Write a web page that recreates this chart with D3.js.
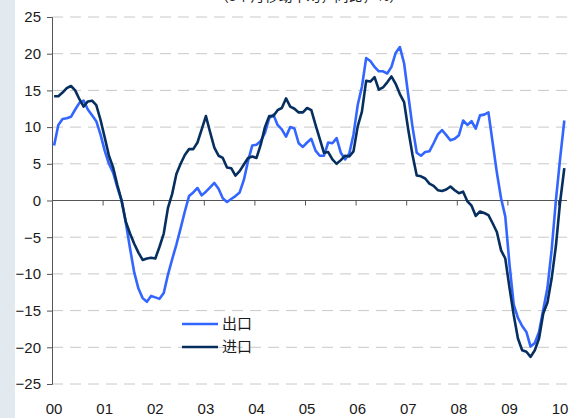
<!DOCTYPE html>
<html lang="zh">
<head>
<meta charset="UTF-8">
<title>出口与进口</title>
<script src="https://d3js.org/d3.v7.min.js"></script>
<style>
  body { margin: 0; padding: 0; background: #fff; }
  svg { display: block; }
  text { font-family: "Liberation Sans", Arial, sans-serif; fill: #1a1a1a; }
  .cjk { font-family: "Noto Sans CJK SC", sans-serif; }
</style>
</head>
<body>
<div id="chart"></div>
<script>
// year labels, one per January (month index 0, 12, 24 ...)
const years = ["00", "01", "02", "03", "04", "05", "06", "07", "08", "09", "10"];
const yTicks = [25, 20, 15, 10, 5, 0, -5, -10, -15, -20, -25];

// monthly values from Jan 2000, in %
const exportsData = [
  7.5, 10.3, 11.1, 11.2, 11.4, 12.4, 13.3, 13.6, 12.4, 11.6, 10.8, 9.0,
  6.8, 5.0, 3.8, 1.8, 0.0, -3.0, -6.5, -9.8, -12.0, -13.3, -13.8, -13.0,
  -13.2, -13.4, -12.6, -10.1, -8.0, -6.0, -3.8, -1.5, 0.6, 1.1, 1.7, 0.7,
  1.2, 1.8, 2.4, 1.6, 0.3, -0.2, 0.2, 0.6, 1.1, 2.8, 5.4, 7.5,
  7.6, 8.1, 9.2, 11.2, 11.7, 10.3, 9.7, 8.7, 10.0, 9.8, 7.8, 7.3,
  7.9, 8.4, 6.8, 6.1, 6.1, 7.9, 7.8, 8.5, 6.5, 5.6, 6.4, 9.0,
  13.0, 15.5, 19.4, 19.0, 18.2, 17.6, 17.6, 17.3, 18.2, 20.1, 20.9, 18.7,
  14.3, 10.0, 6.5, 6.1, 6.6, 6.7, 7.8, 9.0, 9.6, 8.9, 8.2, 8.4,
  8.9, 10.9, 10.3, 10.8, 9.8, 11.6, 11.7, 12.0, 7.9, 3.8, 0.3, -2.2,
  -8.7, -14.2, -16.0, -17.1, -17.9, -19.9, -19.4, -17.9, -14.9, -11.9, -6.7, 0.0,
  5.7, 10.9
];
const importsData = [
  14.2, 14.2, 14.7, 15.3, 15.6, 15.0, 13.8, 12.8, 13.5, 13.6, 13.0, 11.0,
  8.6, 6.1, 4.5, 2.1, 0.0, -2.9, -4.5, -5.9, -7.1, -8.1, -7.9, -7.8,
  -7.9, -6.3, -4.5, -1.0, 0.9, 3.6, 5.0, 6.2, 7.0, 7.0, 7.9, 9.7,
  11.5, 9.3, 7.2, 6.1, 5.8, 4.5, 4.4, 3.4, 4.0, 4.9, 5.8, 6.0,
  5.8, 7.6, 10.0, 11.5, 11.5, 12.3, 12.6, 13.9, 12.8, 12.5, 12.0, 12.0,
  12.6, 12.3, 10.3, 8.4, 6.5, 6.6, 5.6, 5.0, 5.5, 6.1, 6.0, 6.7,
  10.1, 12.1, 16.3, 16.2, 16.8, 15.1, 15.4, 16.1, 16.9, 15.9, 14.5, 13.4,
  9.6, 6.2, 3.4, 3.3, 3.0, 2.3, 2.0, 1.4, 1.3, 1.5, 1.9, 1.4,
  1.0, 1.2, -0.1, -0.7, -2.1, -1.5, -1.7, -2.0, -3.1, -4.3, -6.8, -7.9,
  -11.9, -15.6, -18.8, -20.4, -20.6, -21.3, -20.4, -18.8, -15.4, -13.9, -10.6, -6.2,
  -0.2, 4.4
];
const seriesNames = ["出口", "进口"];
const seriesColors = ["#3366ff", "#062f5f"];

const W = 581, H = 418;
const svg = d3.select("#chart").append("svg")
  .attr("width", W)
  .attr("height", H);

// pale strip on the left edge
svg.append("rect")
  .attr("x", 0).attr("y", 0)
  .attr("width", 15).attr("height", H)
  .attr("fill", "#e2e9ef");

const x = d3.scaleLinear().domain([-0.5, 119.5]).range([52, 558]);
const y = d3.scaleLinear().domain([-25, 25]).range([384, 17]);

// title, mostly above the top edge as in the source
svg.append("text")
  .attr("class", "cjk")
  .attr("x", 309).attr("y", 0.5)
  .attr("text-anchor", "middle")
  .style("font-size", "14px")
  .text("（3个月移动平均，同比，%）");

// dashed grid
svg.append("g")
  .selectAll("line")
  .data(yTicks.filter(d => d !== 0))
  .join("line")
    .attr("x1", 52).attr("x2", 567)
    .attr("y1", d => y(d)).attr("y2", d => y(d))
    .attr("stroke", "#c8c8c8")
    .attr("stroke-width", 1)
    .attr("stroke-dasharray", "11,7");

// y axis
const yAxis = svg.append("g")
  .attr("transform", "translate(52,0)")
  .call(d3.axisLeft(y).tickValues(yTicks).tickSize(5).tickPadding(6));
yAxis.select(".domain").attr("stroke", "#555");
yAxis.selectAll(".tick line").attr("stroke", "#555");
yAxis.selectAll("text").style("font-size", "15px").attr("fill", "#1a1a1a");

// x axis on the zero line, ticks between Dec and Jan
const xAxis = svg.append("g")
  .attr("transform", `translate(0,${y(0)})`)
  .call(d3.axisBottom(x)
    .tickValues(years.map((d, i) => i * 12 - 0.5))
    .tickSize(5)
    .tickSizeOuter(0)
    .tickFormat(""));
xAxis.select(".domain").attr("stroke", "#555").attr("d", `M52,0H567`);
xAxis.selectAll(".tick line").attr("stroke", "#555");

// year labels at bottom
svg.append("g")
  .selectAll("text")
  .data(years)
  .join("text")
    .attr("x", (d, i) => x(i * 12))
    .attr("y", 414)
    .attr("text-anchor", "middle")
    .style("font-size", "15px")
    .text(d => d);

// lines
const line = d3.line()
  .x((d, i) => x(i))
  .y(d => y(d));

[exportsData, importsData].forEach((data, k) => {
  svg.append("path")
    .datum(data)
    .attr("fill", "none")
    .attr("stroke", seriesColors[k])
    .attr("stroke-width", 2.6)
    .attr("stroke-linejoin", "round")
    .attr("d", line);
});

// legend
const legend = svg.append("g");
seriesNames.forEach((name, k) => {
  const ly = 324 + k * 23;
  legend.append("line")
    .attr("x1", 182).attr("x2", 218)
    .attr("y1", ly).attr("y2", ly)
    .attr("stroke", seriesColors[k])
    .attr("stroke-width", 2.6);
  legend.append("text")
    .attr("class", "cjk")
    .attr("x", 222).attr("y", ly + 5)
    .style("font-size", "15px")
    .attr("fill", "#333")
    .text(name);
});
</script>
</body>
</html>
